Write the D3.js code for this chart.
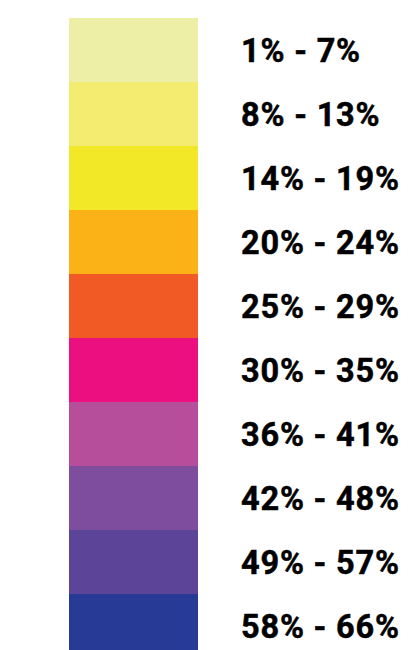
<!DOCTYPE html>
<html><head><meta charset="utf-8">
<script src="https://cdn.jsdelivr.net/npm/d3@7"></script>
<style>html,body{margin:0;padding:0;background:#fff;overflow:hidden;}</style>
</head><body>
<script>
const labels = ["1% - 7%","8% - 13%","14% - 19%","20% - 24%","25% - 29%","30% - 35%","36% - 41%","42% - 48%","49% - 57%","58% - 66%"];
const colors = ["#EEEFA6","#F4EC70","#F2E828","#FBB217","#F15A25","#EC0F80","#B74E9C","#7F4D9D","#5C4499","#263A96"];

const W = 413, H = 650;
const svg = d3.select("body").append("svg").attr("width", W).attr("height", H);

const y = d3.scaleBand().domain(labels).range([18, 658]).padding(0);
const x0 = 69, x1 = 198;

svg.selectAll("rect.band").data(labels).join("rect")
  .attr("class","band")
  .attr("x", x0).attr("width", x1 - x0)
  .attr("y", d => y(d)).attr("height", y.bandwidth())
  .attr("fill", (d,i) => colors[i]);

svg.selectAll("text.lab").data(labels).join("text")
  .attr("class","lab")
  .attr("x", 241)
  .attr("y", d => y(d) + y.bandwidth()/2 + 12)
  .attr("font-family", "Roboto, 'DejaVu Sans', sans-serif")
  .attr("font-weight", 700)
  .attr("font-size", 32.5)
  .attr("letter-spacing", 0.8)
  .attr("stroke", "#000")
  .attr("stroke-width", 0.5)
  .attr("fill", "#000")
  .text(d => d);
</script>
</body></html>
